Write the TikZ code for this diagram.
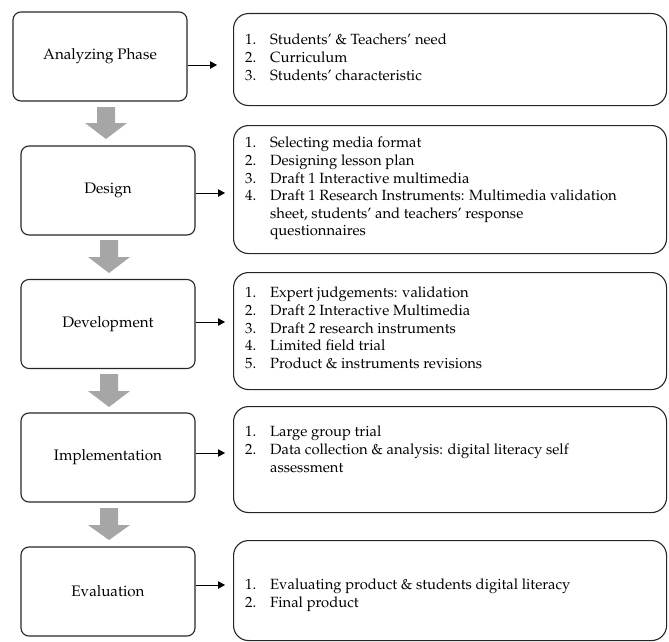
\documentclass[tikz,border=0pt]{standalone}
\usepackage[T1]{fontenc}
\usepackage{mathpazo}
\usetikzlibrary{arrows.meta}
\newcommand\itm[2]{\makebox[25pt][l]{#1}#2}
\begin{document}
\begin{tikzpicture}[x=1pt,y=-1pt,
 phase/.style={draw=black!85, line width=1.1pt, rounded corners=8pt, minimum width=174pt, minimum height=89pt, inner sep=0pt, font=\fontsize{15.2}{18}\selectfont},
 listbox/.style={draw=black!85, line width=1.1pt, rounded corners=15pt, anchor=north west, minimum width=433pt, inner sep=0pt},
 listtext/.style={anchor=north west, inner sep=0pt, align=left, font=\fontsize{14.8}{17.6}\selectfont},
 link/.style={line width=0.8pt, -{Triangle[length=7pt,width=7.5pt]}},
 blockarrow/.style={fill=black!35, draw=none}]
\useasboundingbox (0,0) rectangle (669,642);

% left phase boxes
\node[phase] (A)   at (100,56.5)  {Analyzing Phase};
\node[phase] (D)   at (108,190.5) {Design};
\node[phase] (Dv)  at (108,324)   {Development};
\node[phase] (Im)  at (108,457.5) {Implementation};
\node[phase] (Ev)  at (108,591.5) {Evaluation};

% right list boxes
\node[listbox, minimum height=92pt]  (R1) at (233,13)  {};
\node[listbox, minimum height=128pt] (R2) at (233,125) {};
\node[listbox, minimum height=117pt] (R3) at (233,272) {};
\node[listbox, minimum height=106pt] (R4) at (233,406) {};
\node[listbox, minimum height=100pt] (R5) at (233,540) {};

\node[listtext] (T1) at (245,34) {\itm{1.}{Students' \& Teachers' need}\\
\itm{2.}{Curriculum}\\
\itm{3.}{Students' characteristic}};
\node[listtext] (T2) at (245,137) {\itm{1.}{Selecting media format}\\
\itm{2.}{Designing lesson plan}\\
\itm{3.}{Draft 1 Interactive multimedia}\\
\itm{4.}{Draft 1 Research Instruments: Multimedia validation}\\
\itm{}{sheet, students' and teachers' response}\\
\itm{}{questionnaires}};
\node[listtext] (T3) at (245,287) {\itm{1.}{Expert judgements: validation}\\
\itm{2.}{Draft 2 Interactive Multimedia}\\
\itm{3.}{Draft 2 research instruments}\\
\itm{4.}{Limited field trial}\\
\itm{5.}{Product \& instruments revisions}};
\node[listtext] (T4) at (245,426) {\itm{1.}{Large group trial}\\
\itm{2.}{Data collection \& analysis: digital literacy self}\\
\itm{}{assessment}};
\node[listtext] (T5) at (245,579) {\itm{1.}{Evaluating product \& students digital literacy}\\
\itm{2.}{Final product}};

% small arrows
\coordinate (e1) at (217,65);
\coordinate (e2) at (225,193);
\coordinate (e3) at (225,322);
\coordinate (e4) at (225,453);
\coordinate (e5) at (225,585);
\draw[link] (A.east |- e1) -- (e1);
\draw[link] (D.east |- e2) -- (e2);
\draw[link] (Dv.east |- e3) -- (e3);
\draw[link] (Im.east |- e4) -- (e4);
\draw[link] (Ev.east |- e5) -- (e5);

% gray block arrows
\foreach \cx/\top/\hs/\tip in {106/107/123/139, 109/240/257/273, 109/374/391/407, 109/508/525/540}{
  \fill[blockarrow] (\cx-9,\top) -- (\cx+9,\top) -- (\cx+9,\hs) -- (\cx+21,\hs) -- (\cx,\tip) -- (\cx-21,\hs) -- (\cx-9,\hs) -- cycle;
}
\end{tikzpicture}
\end{document}
